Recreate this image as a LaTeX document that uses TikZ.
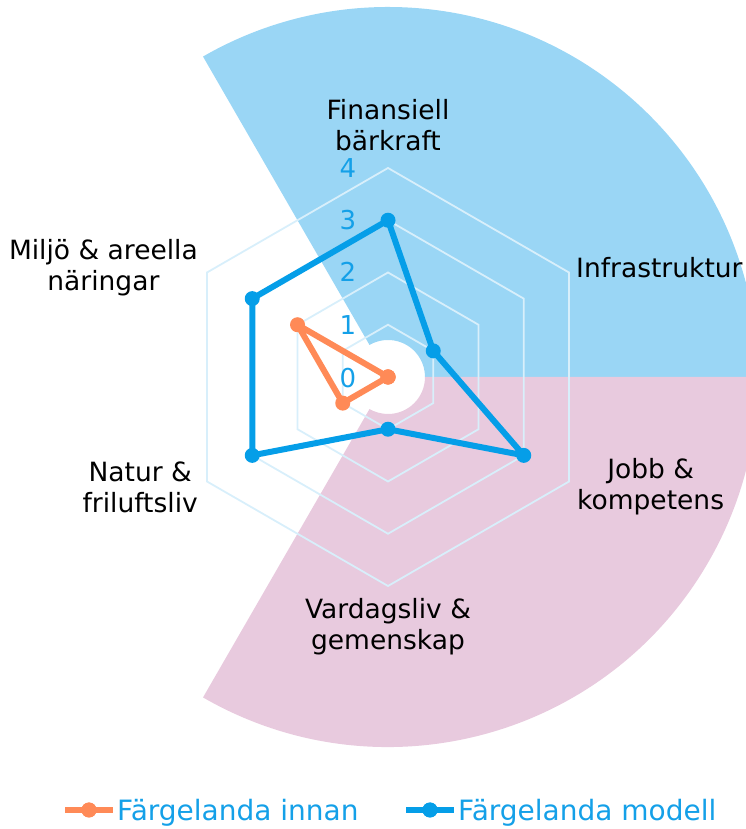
\documentclass[tikz,border=0pt]{standalone}
\usepackage{fontspec}
\setmainfont{DejaVu Sans}
\definecolor{bgblue}{RGB}{154,214,245}
\definecolor{bgpink}{RGB}{232,202,222}
\definecolor{gridc}{RGB}{216,239,251}
\definecolor{dblue}{RGB}{5,158,232}
\definecolor{dorange}{RGB}{255,138,87}
\definecolor{tblue}{RGB}{20,160,232}
\tikzset{
  gridline/.style={draw=gridc, line width=1.8pt},
  lbl/.style={font=\fontsize{26.5}{31}\selectfont, text=black, align=center, inner sep=0pt},
  tick/.style={font=\fontsize{26}{30}\selectfont, text=tblue, inner sep=0pt},
  bdot/.style={circle, fill=dblue, inner sep=0pt, minimum size=15pt},
  odot/.style={circle, fill=dorange, inner sep=0pt, minimum size=15pt},
  bline/.style={draw=dblue, line width=6pt, line join=round},
  oline/.style={draw=dorange, line width=6pt, line join=round},
  legtext/.style={font=\fontsize{28}{32}\selectfont, text=tblue, inner sep=0pt, anchor=base west}
}
\begin{document}
\begin{tikzpicture}[x=1pt,y=1pt]
\useasboundingbox (0,0) rectangle (746,829);
\clip (0,0) rectangle (746,829);
\begin{scope}[shift={(388,452)}]
  % background sectors
  \fill[bgblue] (0:37) -- (0:370) arc[start angle=0,end angle=120,radius=370] -- (120:37) arc[start angle=120,end angle=0,radius=37] -- cycle;
  \fill[bgpink] (-120:37) -- (-120:370) arc[start angle=-120,end angle=0,radius=370] -- (0:37) arc[start angle=0,end angle=-120,radius=37] -- cycle;
  % grid
  \foreach \k in {1,2,3,4}{
    \draw[gridline] (90:{\k*52.25}) -- (30:{\k*52.25}) -- (-30:{\k*52.25}) -- (-90:{\k*52.25}) -- (-150:{\k*52.25}) -- (150:{\k*52.25}) -- cycle;
  }
  % data: orange (innan)
  \node[odot] (o1) at (90:0) {};
  \node[odot] (o2) at (30:0) {};
  \node[odot] (o3) at (-30:0) {};
  \node[odot] (o4) at (-90:0) {};
  \node[odot] (o5) at (-150:52.25) {};
  \node[odot] (o6) at (150:104.5) {};
  \draw[oline] (o1.center) -- (o2.center) -- (o3.center) -- (o4.center) -- (o5.center) -- (o6.center) -- cycle;
  % data: blue (modell)
  \node[bdot] (b1) at (90:156.75) {};
  \node[bdot] (b2) at (30:52.25) {};
  \node[bdot] (b3) at (-30:156.75) {};
  \node[bdot] (b4) at (-90:52.25) {};
  \node[bdot] (b5) at (-150:156.75) {};
  \node[bdot] (b6) at (150:156.75) {};
  \draw[bline] (b1.center) -- (b2.center) -- (b3.center) -- (b4.center) -- (b5.center) -- (b6.center) -- cycle;
\end{scope}
% tick labels
\node[tick] (t0) at (348,451) {0};
\node[tick] (t1) at (348,504) {1};
\node[tick] (t2) at (348,557) {2};
\node[tick] (t3) at (348,609) {3};
\node[tick] (t4) at (348,661) {4};
% axis labels
\node[lbl] (lf) at (388,704) {Finansiell\\bärkraft};
\node[lbl, anchor=west] (li) at (576,561) {Infrastruktur};
\node[lbl, anchor=west] (lj) at (577,342) {Jobb \&\\kompetens};
\node[lbl] (lv) at (388,202) {Vardagsliv \&\\gemenskap};
\node[lbl, anchor=east] (ln) at (198,342) {Natur \&\\friluftsliv};
\node[lbl, anchor=east] (lm) at (198,561) {Miljö \& areella\\näringar};
% legend
\coordinate (la1) at (65,19);
\coordinate (la2) at (113,19);
\node[odot] (ld1) at (89,19) {};
\draw[oline] (la1) -- (la2);
\node[odot] at (ld1) {};
\node[legtext] (lt1) at (117,9) {Färgelanda innan};
\coordinate (lb1) at (406,19);
\coordinate (lb2) at (454,19);
\node[bdot] (ld2) at (430,19) {};
\draw[bline] (lb1) -- (lb2);
\node[bdot] at (ld2) {};
\node[legtext] (lt2) at (458,9) {Färgelanda modell};
\end{tikzpicture}
\end{document}
